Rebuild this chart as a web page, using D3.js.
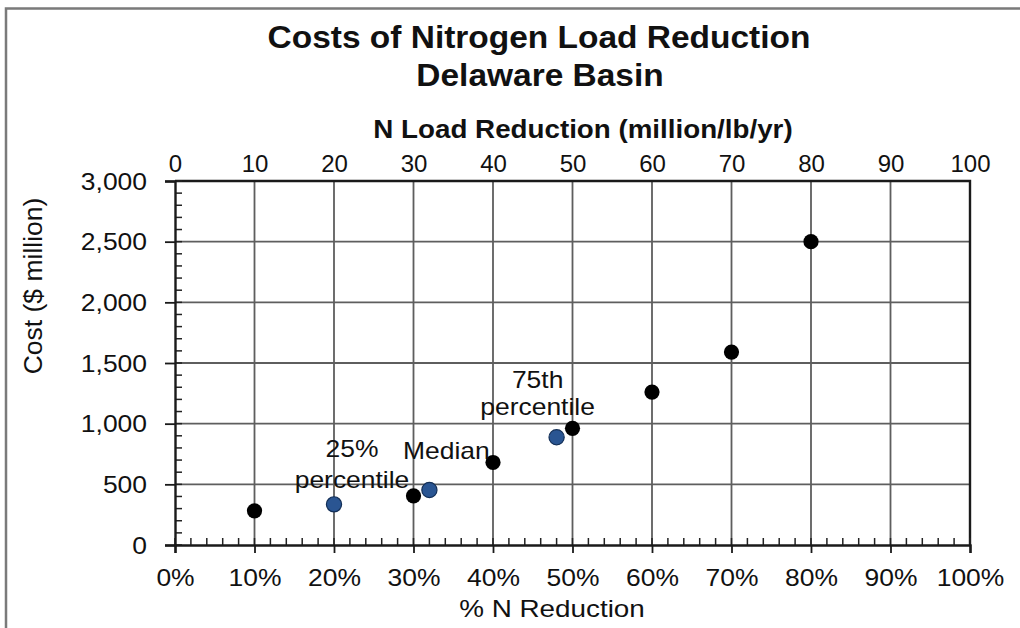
<!DOCTYPE html>
<html>
<head>
<meta charset="utf-8">
<script src="https://cdn.jsdelivr.net/npm/d3@7/dist/d3.min.js"></script>
<style>
  html, body { margin: 0; padding: 0; background: #fff; }
  svg { display: block; font-family: "Liberation Sans", Arial, sans-serif; }
</style>
</head>
<body>
<svg id="chart" width="1020" height="628"></svg>
<script>
// ---- data ----
const pctReduction = [0.10, 0.30, 0.40, 0.50, 0.60, 0.70, 0.80];
const costMillion = [282, 405, 680, 962, 1260, 1590, 2500];
const percentilePct = [0.20, 0.32, 0.48];
const percentileCost = [335, 453, 888];
const percentileLabels = [["25%", "percentile"], ["Median"], ["75th", "percentile"]];
const bottomTicks = [0, 0.1, 0.2, 0.3, 0.4, 0.5, 0.6, 0.7, 0.8, 0.9, 1.0];
const topTicks = [0, 10, 20, 30, 40, 50, 60, 70, 80, 90, 100];
const yTicks = [0, 500, 1000, 1500, 2000, 2500, 3000];
const titleLines = ["Costs of Nitrogen Load Reduction", "Delaware Basin"];
const topAxisTitle = "N Load Reduction (million/lb/yr)";
const yAxisTitle = "Cost ($ million)";
const xAxisTitle = "% N Reduction";

// ---- layout ----
const L = 175, R = 970, T = 181, B = 545;
const svg = d3.select("#chart");
const ink = "#111";

const x = d3.scaleLinear().domain([0, 1]).range([L, R]);
const xTop = d3.scaleLinear().domain([0, 100]).range([L, R]);
const y = d3.scaleLinear().domain([0, 3000]).range([B, T]);

// outer frame
svg.append("path").attr("d", `M6,628 V8.5 H1020`)
  .attr("fill", "none").attr("stroke", "#7a7a7a").attr("stroke-width", 2.5);

// helper for stretched text
function label(txt, cx, cy, opts) {
  const o = Object.assign({ size: 22, weight: "normal", sx: 1.2, anchor: "middle", rotate: 0 }, opts || {});
  const g = svg.append("g")
    .attr("transform", `translate(${cx},${cy}) rotate(${o.rotate}) scale(${o.sx},1)`);
  g.append("text").attr("x", 0).attr("y", 0)
    .attr("text-anchor", o.anchor)
    .attr("font-size", o.size).attr("font-weight", o.weight)
    .attr("fill", ink).text(txt);
  return g;
}

// gridlines
const grid = svg.append("g").attr("stroke", "#5e5e5e").attr("stroke-width", 1.8);
grid.selectAll("line.v").data(bottomTicks.filter(d => d > 0 && d < 1)).join("line")
  .attr("x1", d => x(d)).attr("x2", d => x(d)).attr("y1", T).attr("y2", B);
grid.selectAll("line.h").data(yTicks.filter(d => d > 0 && d < 3000)).join("line")
  .attr("x1", L).attr("x2", R).attr("y1", d => y(d)).attr("y2", d => y(d));

// top & right border
svg.append("path").attr("d", `M${L},${T} H${R} V${B}`)
  .attr("fill", "none").attr("stroke", "#1a1a1a").attr("stroke-width", 2.4);

// minor ticks
const minorY = d3.range(0, 3001, 100);
svg.append("g").selectAll("line").data(minorY).join("line")
  .attr("x1", L).attr("x2", L + 7).attr("y1", d => y(d)).attr("y2", d => y(d))
  .attr("stroke", "#222").attr("stroke-width", 1.5);
const minorX = d3.range(0, 101, 2).map(d => d / 100);
svg.append("g").selectAll("line").data(minorX).join("line")
  .attr("x1", d => x(d)).attr("x2", d => x(d)).attr("y1", B).attr("y2", B - 7)
  .attr("stroke", "#222").attr("stroke-width", 1.5);

// left axis
const sy = 1.15;
const gy = svg.append("g").attr("transform", `translate(${L},0)`)
  .call(d3.axisLeft(y).tickValues(yTicks).tickSize(10).tickFormat(d3.format(",")));
gy.select(".domain").attr("stroke", "#1a1a1a").attr("stroke-width", 2.4);
gy.selectAll(".tick line").attr("stroke", "#1a1a1a").attr("stroke-width", 1.8);
gy.selectAll(".tick text")
  .attr("font-family", "Liberation Sans, Arial, sans-serif")
  .attr("font-size", 23).attr("fill", ink)
  .attr("x", -28 / sy).attr("dy", "0.35em")
  .attr("transform", `scale(${sy},1)`);

// bottom axis
const gx = svg.append("g").attr("transform", `translate(0,${B})`)
  .call(d3.axisBottom(x).tickValues(bottomTicks).tickSize(8).tickFormat(d3.format(".0%")));
gx.select(".domain").attr("stroke", "#1a1a1a").attr("stroke-width", 2.4);
gx.selectAll(".tick line").attr("stroke", "#1a1a1a").attr("stroke-width", 1.8);
gx.selectAll(".tick text")
  .attr("font-family", "Liberation Sans, Arial, sans-serif")
  .attr("font-size", 23).attr("fill", ink)
  .attr("y", 41).attr("dy", 0)
  .attr("transform", `scale(1.15,1)`);

// top axis (labels only)
const gt = svg.append("g").attr("transform", `translate(0,${T})`)
  .call(d3.axisTop(xTop).tickValues(topTicks).tickSize(0).tickPadding(9));
gt.select(".domain").remove();
gt.selectAll(".tick text")
  .attr("font-family", "Liberation Sans, Arial, sans-serif")
  .attr("font-size", 24).attr("fill", ink);

// data points
svg.append("g").selectAll("circle").data(pctReduction).join("circle")
  .attr("cx", d => x(d)).attr("cy", (d, i) => y(costMillion[i]))
  .attr("r", 7.6).attr("fill", "#000");
svg.append("g").selectAll("circle").data(percentilePct).join("circle")
  .attr("cx", d => x(d)).attr("cy", (d, i) => y(percentileCost[i]))
  .attr("r", 7.6).attr("fill", "#2a5592").attr("stroke", "#132f57").attr("stroke-width", 1.2);

// annotations (offsets relative to their points)
const annOffsets = [{ dx: 18, dy: [-47, -16] }, { dx: 17, dy: [-31] }, { dx: -19, dy: [-49, -22] }];
percentileLabels.forEach((lines, i) => {
  const px = x(percentilePct[i]), py = y(percentileCost[i]);
  lines.forEach((t, j) => label(t, px + annOffsets[i].dx, py + annOffsets[i].dy[j], { size: 23, sx: 1.15 }));
});

// titles
label(titleLines[0], 539, 48, { size: 31, weight: "bold", sx: 1.08 });
label(titleLines[1], 540, 86, { size: 31, weight: "bold", sx: 1.08 });
label(topAxisTitle, 583, 138, { size: 25, weight: "bold", sx: 1.11 });
label(yAxisTitle, 42, 286, { size: 25, sx: 1.06, rotate: -90 });
label(xAxisTitle, 552, 617, { size: 24, sx: 1.16 });
</script>
</body>
</html>
